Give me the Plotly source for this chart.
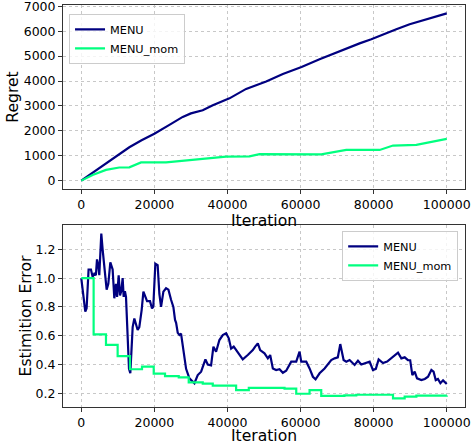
import plotly.graph_objects as go

# ---- Data ----
reg_x = [0, 2500, 5840, 9500, 13150, 16500, 20000, 24000, 27760, 30000, 33230,
         36000, 40550, 45110, 50590, 55160, 60270, 65200, 68860, 72510, 76160, 79360,
         82560, 86210, 89860, 93520, 97170, 100000]
reg_menu = [0, 250, 593, 980, 1340, 1620, 1881, 2230, 2559, 2700, 2828,
            3030, 3303, 3683, 3981, 4279, 4563, 4874, 5091, 5308, 5510, 5673,
            5876, 6079, 6282, 6445, 6621, 6716]

reg_mom_x = [0, 3100, 6760, 10400, 13150, 16350, 23200, 25940, 28680, 35070, 39630,
             46030, 48770, 65660, 68860, 72510, 81640, 85300, 91690, 96260, 100000]
reg_mom = [0, 230, 431, 528, 535, 731, 731, 772, 796, 893, 960,
           975, 1062, 1056, 1137, 1232, 1232, 1408, 1435, 1570, 1679]

err_x = [0, 1100, 1460, 2000, 2650, 3100, 3560, 4000, 4300, 4660, 4930, 5200, 5480,
         5840, 6300, 6940, 7400, 7950, 8580, 9040, 9500, 9800, 10230, 10600, 10950,
         11320, 11600, 11950, 12240, 12700, 13060, 13420, 14060, 14520, 14980, 15430,
         15880, 16530, 17000, 17550, 18000, 18800, 19360, 19700, 20270, 20900, 21370,
         21830, 22470, 23200, 23850, 24570, 25200, 25660, 25950, 26400, 26850, 27300,
         27760, 28220, 28680, 29590, 30960, 31870, 32790, 33970, 34610, 35520, 36160,
         36890, 37800, 38720, 39630, 40360, 41000, 41720, 42370, 43100, 44190, 45560,
         46940, 47580, 48310, 48950, 50140, 51050, 51690, 52420, 53330, 54250, 55160,
         56070, 57450, 58820, 59730, 60190, 61560, 62470, 63380, 64110, 65210, 66580,
         67760, 68400, 69320, 70200, 70870, 71780, 72510, 73420, 74790, 75710, 76620,
         77990, 78900, 79810, 80600, 81370, 82560, 83700, 84840, 85750, 86670, 87580,
         88500, 89400, 90000, 90590, 91230, 91870, 93060, 94000, 94880, 95800, 96400,
         96990, 97600, 98270, 99000, 100000]
err_menu = [1.00, 0.767, 0.79, 1.06, 1.06, 1.01, 1.03, 1.02, 1.13, 1.09, 1.02, 1.13, 1.31,
            1.20, 1.10, 0.92, 0.96, 1.11, 1.06, 0.86, 0.96, 0.87, 1.02, 0.88, 0.91,
            1.00, 0.87, 0.91, 0.87, 0.63, 0.37, 0.34, 0.66, 0.72, 0.67, 0.64,
            0.66, 0.78, 0.906, 0.87, 0.84, 0.84, 0.79, 0.80, 1.10, 1.09, 0.89,
            0.80, 0.906, 0.93, 0.92, 0.85, 0.80, 0.71, 0.69, 0.62, 0.605, 0.615,
            0.52, 0.43, 0.37, 0.304, 0.27, 0.327, 0.35, 0.436, 0.40, 0.394, 0.524,
            0.489, 0.57, 0.605, 0.617, 0.582, 0.51, 0.524, 0.50, 0.478, 0.436, 0.466,
            0.50, 0.524, 0.547, 0.50, 0.478, 0.443, 0.466, 0.373, 0.362, 0.367, 0.343,
            0.357, 0.42, 0.42, 0.49, 0.42, 0.42, 0.373, 0.315, 0.297, 0.339, 0.373,
            0.408, 0.431, 0.443, 0.45, 0.542, 0.431, 0.42, 0.431, 0.397, 0.426, 0.40,
            0.41, 0.42, 0.362, 0.37, 0.436, 0.41, 0.42, 0.443, 0.466, 0.482, 0.443,
            0.45, 0.431, 0.43, 0.327, 0.35, 0.304, 0.292, 0.30, 0.315, 0.362, 0.35,
            0.292, 0.30, 0.27, 0.29, 0.265]

err_mom_x = [0, 3380, 6760, 9950, 13330, 16620, 19820, 22920, 26670, 29400, 33240,
             35980, 42370, 45840, 55620, 58820, 62470, 65660, 72000, 75250, 85300,
             88490, 91690, 100000]
err_mom = [1.00, 0.61, 0.536, 0.458, 0.367, 0.385, 0.337, 0.32, 0.311, 0.276, 0.268,
           0.253, 0.222, 0.238, 0.232, 0.197, 0.222, 0.182, 0.186, 0.19, 0.165,
           0.177, 0.184, 0.185]

x_ticks = [0, 20000, 40000, 60000, 80000, 100000]
reg_ticks = [0, 1000, 2000, 3000, 4000, 5000, 6000, 7000]
err_ticks = [0.2, 0.4, 0.6, 0.8, 1.0, 1.2]

NAVY = "#000080"
GREEN = "#00ff7f"
FONT = "DejaVu Sans"
FRAME = "#333333"

fig = go.Figure()

fig.add_trace(go.Scatter(x=reg_x, y=reg_menu, mode="lines", name="MENU",
                         line=dict(color=NAVY, width=2.2), xaxis="x", yaxis="y",
                         legend="legend"))
fig.add_trace(go.Scatter(x=reg_mom_x, y=reg_mom, mode="lines", name="MENU_mom",
                         line=dict(color=GREEN, width=2.2), xaxis="x", yaxis="y",
                         legend="legend"))
fig.add_trace(go.Scatter(x=err_x, y=err_menu, mode="lines", name="MENU",
                         line=dict(color=NAVY, width=2.2), xaxis="x2", yaxis="y2",
                         legend="legend2"))
fig.add_trace(go.Scatter(x=err_mom_x, y=err_mom, mode="lines", name="MENU_mom",
                         line=dict(color=GREEN, width=2.2, shape="hv"), xaxis="x2",
                         yaxis="y2", legend="legend2"))

axis_common = dict(showline=True, mirror=True, linecolor=FRAME, linewidth=1,
                   ticks="outside", ticklen=4, tickcolor=FRAME, tickwidth=1,
                   showgrid=True, gridcolor="#c8c8c8", griddash="dot", gridwidth=1,
                   zeroline=False, automargin=False, ticklabeloverflow="allow",
                   tickfont=dict(family=FONT, size=12.5, color="black"))

fig.update_layout(
    width=474, height=445,
    margin=dict(l=63, r=9, t=5, b=38),
    paper_bgcolor="white", plot_bgcolor="white",
    font=dict(family=FONT, color="black"),
    xaxis=dict(domain=[0, 1], anchor="y", range=[-5000, 105000], tickvals=x_ticks,
               ticktext=[str(v) for v in x_ticks],
               title=dict(text="Iteration", font=dict(size=15.6), standoff=0),
               **axis_common),
    yaxis=dict(domain=[0.5423, 1], anchor="x", range=[-336, 7052], tickvals=reg_ticks,
               title=dict(text="Regret", font=dict(size=15.6), standoff=1),
               **axis_common),
    xaxis2=dict(domain=[0, 1], anchor="y2", range=[-5000, 105000], tickvals=x_ticks,
                ticktext=[str(v) for v in x_ticks],
                title=dict(text="Iteration", font=dict(size=15.6), standoff=0),
                **axis_common),
    yaxis2=dict(domain=[0, 0.4527], anchor="x2", range=[0.105, 1.369],
                tickvals=err_ticks, ticktext=["0.2", "0.4", "0.6", "0.8", "1.0", "1.2"],
                title=dict(text="Estimition Error", font=dict(size=15.6), standoff=0),
                **axis_common),
    legend=dict(x=0.015, y=0.978, xanchor="left", yanchor="top",
                bgcolor="rgba(255,255,255,0.8)", bordercolor="#cccccc", borderwidth=1,
                font=dict(family=FONT, size=11.3), tracegroupgap=0, itemwidth=30),
    legend2=dict(x=0.983, y=0.438, xanchor="right", yanchor="top",
                 bgcolor="rgba(255,255,255,0.8)", bordercolor="#cccccc", borderwidth=1,
                 font=dict(family=FONT, size=11.3), tracegroupgap=0, itemwidth=30),
    showlegend=True,
)

fig.write_html("out.html", config={"displayModeBar": False},
               post_script="document.body.style.margin='0';document.body.style.padding='0';")
